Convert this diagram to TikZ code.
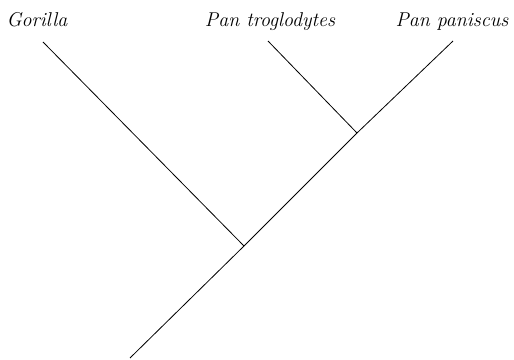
\documentclass[tikz,border=0pt]{standalone}
\begin{document}
\begin{tikzpicture}[x=1pt,y=1pt,
  branch/.style={line width=0.8pt,black},
  taxon/.style={font=\fontsize{20}{24}\selectfont\itshape,anchor=base,inner sep=0pt}]
\useasboundingbox (0,0) rectangle (514,359);
\coordinate (root) at (130,1);
\coordinate (jg) at (244,113);
\coordinate (jp) at (357,226);
\coordinate (tg) at (43,317);
\coordinate (tt) at (268,318);
\coordinate (tp) at (453,318);
\node[taxon] (gor) at (37,332) {Gorilla};
\node[taxon] (tro) at (270,332) {Pan troglodytes};
\node[taxon] (pan) at (452,332) {Pan paniscus};
\draw[branch] (root) -- (jg) -- (jp) -- (tp);
\draw[branch] (jg) -- (tg);
\draw[branch] (jp) -- (tt);
\end{tikzpicture}
\end{document}
